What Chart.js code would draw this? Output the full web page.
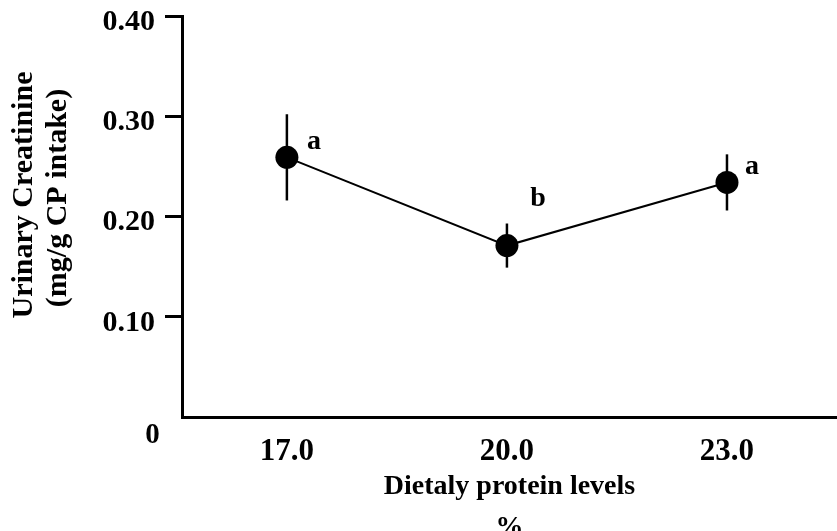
<!DOCTYPE html>
<html>
<head>
<meta charset="utf-8">
<script src="https://cdn.jsdelivr.net/npm/chart.js@4/dist/chart.umd.min.js"></script>
<style>
  html, body { margin: 0; padding: 0; background: #ffffff; }
  canvas { display: block; }
</style>
</head>
<body>
<canvas id="chart" width="837" height="531"></canvas>
<script>
// Urinary creatinine by dietary protein level (mean ± error)
const proteinLevels = ['17.0', '20.0', '23.0'];
const creatinineMean = [0.259, 0.171, 0.234];
const creatinineErr = [0.043, 0.022, 0.028];
const significance = ['a', 'b', 'a'];
const yTickValues = [0, 0.1, 0.2, 0.3, 0.4];
const yAxisTitle = ['Urinary Creatinine', '(mg/g CP intake)'];
const xAxisTitle = ['Dietaly protein levels', '%'];
const originLabel = '0';

const SERIF = "'Liberation Serif', 'Times New Roman', serif";
const levelValues = proteinLevels.map(Number);
const points = levelValues.map((lv, i) => ({ x: lv, y: creatinineMean[i] }));

// Vertical error bars, drawn beneath the markers
const errorBars = {
  id: 'errorBars',
  beforeDatasetsDraw(chart) {
    const { ctx, scales: { x, y } } = chart;
    ctx.save();
    ctx.strokeStyle = '#000';
    ctx.lineWidth = 2.5;
    creatinineMean.forEach((m, i) => {
      const px = x.getPixelForValue(levelValues[i]);
      ctx.beginPath();
      ctx.moveTo(px, y.getPixelForValue(m + creatinineErr[i]));
      ctx.lineTo(px, y.getPixelForValue(m - creatinineErr[i]));
      ctx.stroke();
    });
    ctx.restore();
  }
};

// Significance letters, rotated y title and the origin label
const extraText = {
  id: 'extraText',
  afterDatasetsDraw(chart) {
    const { ctx, chartArea, scales: { y } } = chart;
    const meta = chart.getDatasetMeta(0);
    const letterShift = [[27, -8], [31, -40], [25, -8]];
    ctx.save();
    ctx.fillStyle = '#000';
    ctx.font = 'bold 28px ' + SERIF;
    ctx.textAlign = 'center';
    ctx.textBaseline = 'alphabetic';
    significance.forEach((s, i) => {
      const pt = meta.data[i];
      ctx.fillText(s, pt.x + letterShift[i][0], pt.y + letterShift[i][1]);
    });

    ctx.font = 'bold 29px ' + SERIF;
    ctx.textBaseline = 'middle';
    ctx.fillText(originLabel, chartArea.left - 29.5, y.getPixelForValue(0) + 19);

    ctx.font = 'bold 30px ' + SERIF;
    const titleX = [24.5, 58.5];
    const titleY = [195, 198];
    yAxisTitle.forEach((t, i) => {
      ctx.save();
      ctx.translate(titleX[i], titleY[i]);
      ctx.rotate(-Math.PI / 2);
      ctx.fillText(t, 0, 0);
      ctx.restore();
    });
    ctx.restore();
  }
};

new Chart(document.getElementById('chart'), {
  type: 'line',
  data: {
    datasets: [{
      data: points,
      borderColor: '#000',
      borderWidth: 2,
      backgroundColor: '#000',
      pointBackgroundColor: '#000',
      pointBorderWidth: 0,
      pointRadius: 11.5,
      pointHoverRadius: 11.5,
      tension: 0,
      clip: false
    }]
  },
  options: {
    responsive: false,
    animation: false,
    devicePixelRatio: 1,
    layout: { autoPadding: false, padding: { top: 16, right: 0, bottom: 0, left: 0 } },
    plugins: {
      legend: { display: false },
      tooltip: { enabled: false }
    },
    scales: {
      x: {
        type: 'linear',
        min: 15.57,
        max: 24.5,
        afterBuildTicks(scale) { scale.ticks = levelValues.map(v => ({ value: v })); },
        afterFit(scale) {
          scale.height = 114;
          scale.paddingLeft = 0;
          scale.paddingRight = 0;
        },
        grid: { display: false },
        border: { display: true, color: '#000', width: 3 },
        ticks: {
          color: '#000',
          padding: 11,
          autoSkip: false,
          maxRotation: 0,
          font: { family: SERIF, size: 31, weight: 'bold', lineHeight: 1 },
          callback: v => proteinLevels[levelValues.indexOf(v)]
        },
        title: {
          display: true,
          text: xAxisTitle,
          color: '#000',
          padding: { top: 0, bottom: -17 },
          font: { family: SERIF, size: 28, weight: 'bold', lineHeight: 1.464 }
        }
      },
      y: {
        min: 0,
        max: 0.4,
        afterFit(scale) {
          scale.width = 182;
          scale.paddingTop = 0;
          scale.paddingBottom = 0;
        },
        afterBuildTicks(scale) { scale.ticks = yTickValues.map(v => ({ value: v })); },
        grid: {
          display: true,
          drawOnChartArea: false,
          drawTicks: true,
          tickLength: 17,
          lineWidth: 3,
          color: c => (c.tick && c.tick.value === 0 ? 'rgba(0,0,0,0)' : '#000')
        },
        border: { display: true, color: '#000', width: 3 },
        ticks: {
          color: '#000',
          padding: 10,
          labelOffset: 6,
          font: { family: SERIF, size: 30, weight: 'bold', lineHeight: 1 },
          callback: v => (v === 0 ? '' : v.toFixed(2))
        }
      }
    }
  },
  plugins: [errorBars, extraText]
});
</script>
</body>
</html>
